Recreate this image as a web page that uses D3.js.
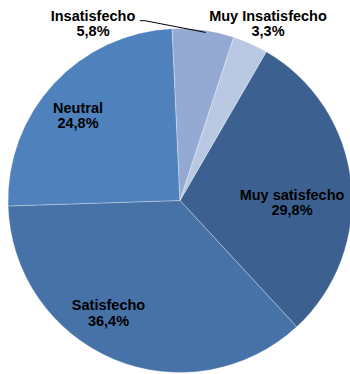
<!DOCTYPE html>
<html>
<head>
<meta charset="utf-8">
<script src="https://cdn.jsdelivr.net/npm/d3@7"></script>
<style>
  html, body { margin: 0; padding: 0; background: #ffffff; }
  svg { display: block; }
</style>
</head>
<body>
<svg id="chart" width="350" height="374"></svg>
<script>
// ---- data ----
const categories = ["Muy satisfecho", "Satisfecho", "Neutral", "Insatisfecho", "Muy Insatisfecho"];
const values = [29.8, 36.4, 24.8, 5.8, 3.3];
const valueLabels = ["29,8%", "36,4%", "24,8%", "5,8%", "3,3%"];

// ---- styling / layout ----
const colors = ["#3C6090", "#4672A8", "#4F81BD", "#95AAD2", "#B9C8E3"];
const cx = 180, cy = 200.5, radius = 172;
const startDeg = 30.1;
// label anchors (center x, first baseline y) relative to svg
const labelPos = {
  "Muy satisfecho": [292, 199.5],
  "Satisfecho": [108.5, 310],
  "Neutral": [78, 112.5],
  "Insatisfecho": [93, 20.7],
  "Muy Insatisfecho": [268, 20.7]
};
const lineGap = 15.6;

const svg = d3.select("#chart");
const g = svg.append("g").attr("transform", `translate(${cx},${cy})`);

const data = categories.map((c, i) => ({ cat: c, value: values[i], label: valueLabels[i], color: colors[i] }));

const total = d3.sum(values);
const start = startDeg * Math.PI / 180;
const pie = d3.pie().value(d => d.value).sort(null)
  .startAngle(start).endAngle(start + 2 * Math.PI);
const arcs = pie(data);
const arc = d3.arc().innerRadius(0).outerRadius(radius);

g.selectAll("path.slice").data(arcs).enter().append("path")
  .attr("class", "slice")
  .attr("d", arc)
  .attr("fill", d => d.data.color)
  .attr("stroke", "#ffffff")
  .attr("stroke-opacity", 0.5)
  .attr("stroke-width", 0.6);

// leader line for Insatisfecho
const ins = arcs.find(a => a.data.cat === "Insatisfecho");
const mid = (ins.startAngle + ins.endAngle) / 2 + 0.016;
const ex = cx + Math.sin(mid) * (radius - 2);
const ey = cy - Math.cos(mid) * (radius - 2);
const lp = labelPos["Insatisfecho"];
svg.append("path")
  .attr("d", `M${lp[0] + 47},${lp[1]}L${lp[0] + 52},${lp[1]}L${ex},${ey}`)
  .attr("fill", "none")
  .attr("stroke", "#000")
  .attr("stroke-width", 1);

const labels = svg.selectAll("text.lbl").data(data).enter().append("text")
  .attr("class", "lbl")
  .attr("text-anchor", "middle")
  .attr("font-family", "'Liberation Sans', Arial, sans-serif")
  .attr("font-weight", "bold")
  .attr("font-size", "14.5px")
  .attr("fill", "#000");
labels.append("tspan")
  .attr("x", d => labelPos[d.cat][0])
  .attr("y", d => labelPos[d.cat][1])
  .text(d => d.cat);
labels.append("tspan")
  .attr("x", d => labelPos[d.cat][0])
  .attr("y", d => labelPos[d.cat][1] + lineGap)
  .text(d => d.label);
</script>
</body>
</html>
